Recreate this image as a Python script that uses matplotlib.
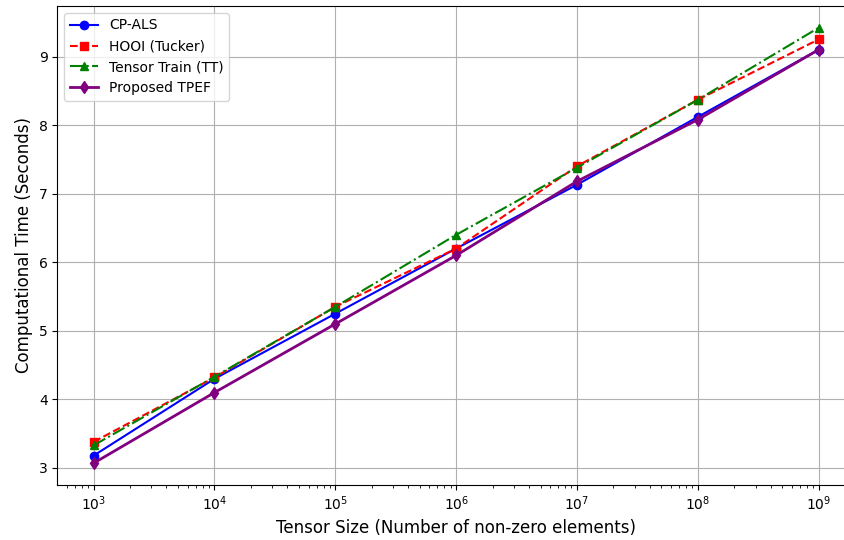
import matplotlib
matplotlib.use("Agg")
import matplotlib.pyplot as plt

tensor_sizes = [1e3, 1e4, 1e5, 1e6, 1e7, 1e8, 1e9]
cp_als = [3.18, 4.30, 5.25, 6.20, 7.13, 8.12, 9.10]
hooi = [3.38, 4.32, 5.35, 6.20, 7.40, 8.37, 9.25]
tensor_train = [3.33, 4.33, 5.35, 6.40, 7.38, 8.37, 9.42]
tpef = [3.07, 4.10, 5.10, 6.10, 7.18, 8.08, 9.10]

fig, ax = plt.subplots(figsize=(8.44, 5.4), dpi=100)
ax.plot(tensor_sizes, cp_als, color='blue', marker='o', linestyle='-', label='CP-ALS')
ax.plot(tensor_sizes, hooi, color='red', marker='s', linestyle='--', label='HOOI (Tucker)')
ax.plot(tensor_sizes, tensor_train, color='green', marker='^', linestyle='-.', label='Tensor Train (TT)')
ax.plot(tensor_sizes, tpef, color='purple', marker='d', linestyle='-', linewidth=2, label='Proposed TPEF')
ax.set_xscale('log')
ax.set_xlabel('Tensor Size (Number of non-zero elements)', fontsize=12)
ax.set_ylabel('Computational Time (Seconds)', fontsize=12)
ax.grid(True)
ax.legend(loc='upper left')
# reference image is cropped on the right, so the axes run past the edge
fig.subplots_adjust(left=0.068, right=1.013, top=0.989, bottom=0.102)
fig.savefig('out.png')
